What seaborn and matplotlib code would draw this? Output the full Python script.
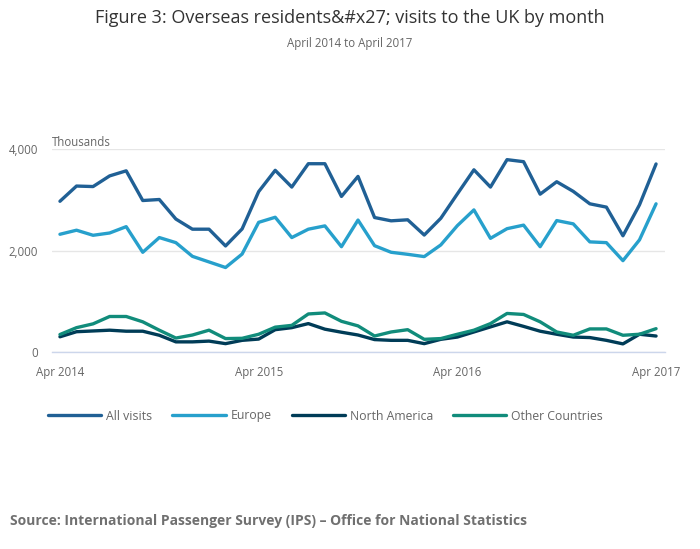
import numpy as np
import pandas as pd
import matplotlib
matplotlib.use("Agg")
import matplotlib.pyplot as plt
import seaborn as sns

# monthly values, thousands of visits, Apr 2014 .. Apr 2017
months = pd.period_range("2014-04", "2017-04", freq="M").strftime("%b %Y").tolist()

all_visits = [2970, 3270, 3260, 3470, 3570, 2985, 3005, 2620, 2420, 2420, 2090, 2425,
              3160, 3580, 3250, 3710, 3710, 3065, 3460, 2650, 2585, 2605, 2305, 2635,
              3115, 3590, 3250, 3790, 3750, 3110, 3355, 3165, 2920, 2855, 2290, 2900,
              3705]
europe = [2320, 2400, 2300, 2345, 2470, 1965, 2255, 2155, 1885, 1775, 1665, 1930,
          2555, 2655, 2255, 2420, 2485, 2075, 2600, 2095, 1965, 1925, 1880, 2110,
          2490, 2800, 2240, 2430, 2500, 2075, 2590, 2525, 2170, 2155, 1800, 2210,
          2920]
north_america = [300, 400, 415, 430, 410, 410, 330, 200, 200, 215, 165, 230,
                 255, 440, 480, 560, 450, 390, 335, 245, 230, 230, 165, 250,
                 295, 395, 495, 595, 505, 410, 350, 295, 285, 230, 160, 350,
                 315]
other = [345, 480, 555, 700, 700, 595, 430, 275, 335, 430, 265, 270,
         350, 490, 525, 750, 770, 605, 515, 315, 395, 440, 250, 265,
         350, 430, 560, 760, 740, 595, 395, 330, 455, 455, 330, 350,
         460]

series_names = ["All visits", "Europe", "North America", "Other Countries"]
colours = ["#206095", "#27a0cc", "#003c57", "#118c7b"]
tick_months = ["Apr 2014", "Apr 2015", "Apr 2016", "Apr 2017"]
y_ticks = [0, 2000, 4000]

df = pd.DataFrame({"month": months, "idx": range(len(months)),
                   "All visits": all_visits, "Europe": europe,
                   "North America": north_america, "Other Countries": other})
long = df.melt(id_vars=["month", "idx"], value_vars=series_names,
               var_name="series", value_name="visits")

sns.set_theme(style="white")
plt.rcParams["font.family"] = ["Open Sans", "DejaVu Sans"]

fig = plt.figure(figsize=(7, 5.49), dpi=100)
ax = fig.add_axes([0.0743, 0.3588, 0.8757, 0.3698])

sns.lineplot(data=long, x="idx", y="visits", hue="series", hue_order=series_names,
             palette=colours, linewidth=2.4, ax=ax, legend=False)

ax.set_xlim(-0.48, 36.54)
ax.set_ylim(0, 4000)
ax.set_yticks(y_ticks)
ax.set_yticklabels([f"{v:,}" for v in y_ticks])
ax.set_xticks([months.index(m) for m in tick_months])
ax.set_xticklabels(tick_months)
ax.set_xlabel("")
ax.set_ylabel("")
ax.grid(axis="y", color="#e6e6e6", linewidth=1)
ax.set_axisbelow(True)
for side in ["top", "right", "left"]:
    ax.spines[side].set_visible(False)
ax.spines["bottom"].set_color("#ccd6eb")
ax.spines["bottom"].set_linewidth(1)
ax.tick_params(axis="x", colors="#ccd6eb", length=8, width=1, direction="out",
               labelcolor="#666666", labelsize=8.3, pad=2)
ax.tick_params(axis="y", length=0, labelcolor="#666666", labelsize=8.3, pad=10)

fig.text(52 / 700, 1 - 142 / 549, "Thousands", fontsize=8.3, color="#666666",
         ha="left", va="center")

fig.text(0.5, 1 - 18 / 549, "Figure 3: Overseas residents&#x27; visits to the UK by month",
         fontsize=13, color="#333333", ha="center", va="center")
fig.text(0.5, 1 - 43 / 549, "April 2014 to April 2017", fontsize=8.3,
         color="#666666", ha="center", va="center")

handles = [plt.Line2D([], [], color=c, linewidth=2.4) for c in colours]
leg = fig.legend(handles, series_names, loc="center left",
                 bbox_to_anchor=(48 / 700, 1 - 416 / 549), ncol=4, frameon=False,
                 fontsize=8.8, handlelength=4.35, handletextpad=0.4,
                 columnspacing=1.65, borderaxespad=0, borderpad=0)
for t in leg.get_texts():
    t.set_color("#666666")

fig.text(10 / 700, 1 - 521 / 549,
         "Source: International Passenger Survey (IPS) \u2013 Office for National Statistics",
         fontsize=10.0, fontweight="bold", color="#707070", ha="left", va="center")

fig.savefig("out.png", dpi=100)
